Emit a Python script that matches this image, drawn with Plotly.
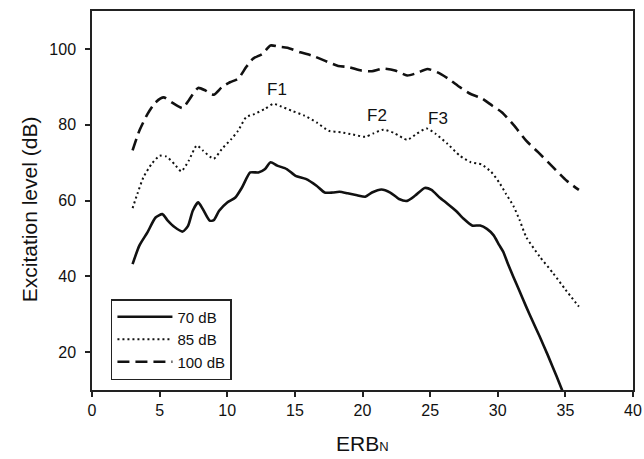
import plotly.graph_objects as go

# ---- data ----
x70 = [3.0, 3.5, 4.1, 4.7, 5.2, 5.6, 6.1, 6.7, 7.1, 7.45, 7.85, 8.2, 8.7, 9.0, 9.4, 10.0,
       10.6, 11.1, 11.7, 12.3, 12.8, 13.2, 13.7, 14.4, 15.05, 15.8, 16.6, 17.2, 17.8, 18.3,
       18.9, 19.6, 20.2, 20.7, 21.4, 22.05, 22.7, 23.3, 23.9, 24.6, 25.1, 25.7, 26.3, 26.9,
       27.5, 28.1, 28.7, 29.2, 29.7, 30.1, 30.4, 30.75, 31.15, 31.6, 32.1, 32.6, 33.1, 33.7,
       34.35, 34.8]
y70 = [43.2, 48.1, 51.6, 55.5, 56.4, 54.7, 53.0, 51.8, 53.3, 57.3, 59.5, 57.7, 54.7, 54.8,
       57.3, 59.5, 60.8, 63.5, 67.4, 67.4, 68.3, 70.1, 69.2, 68.3, 66.5, 65.7, 63.9, 62.1,
       62.1, 62.3, 61.9, 61.4, 61.0, 62.1, 62.9, 62.1, 60.4, 59.9, 61.3, 63.3, 62.8, 60.8,
       59.1, 57.3, 55.1, 53.4, 53.4, 52.5, 50.8, 48.3, 46.5, 43.3, 39.9, 36.2, 32.0, 28.0,
       24.1, 19.2, 13.6, 9.6]

x85 = [3.0, 3.35, 3.8, 4.4, 5.0, 5.5, 6.1, 6.6, 7.15, 7.75, 8.2, 9.0, 9.6, 10.3, 10.8, 11.4,
       12.0, 12.8, 13.4, 14.0, 14.75, 15.7, 16.6, 17.5, 18.4, 19.3, 20.2, 20.8, 21.55, 22.4,
       23.3, 24.0, 24.75, 25.4, 26.3, 27.2, 28.0, 28.8, 29.5, 30.1, 30.6, 31.15, 31.6, 32.1,
       33.1, 34.1, 35.0, 36.0]
y85 = [58.0, 61.7, 66.1, 69.6, 71.8, 71.6, 69.6, 67.7, 70.5, 74.5, 73.2, 71.0, 73.6, 76.2,
       78.4, 82.0, 82.8, 84.2, 85.5, 84.8, 83.7, 82.4, 80.6, 78.4, 78.0, 77.4, 76.8, 77.7,
       78.7, 77.7, 76.0, 77.6, 79.0, 77.6, 74.9, 71.8, 70.1, 69.5, 67.6, 64.8, 61.8, 58.6,
       55.0, 50.4, 45.2, 40.8, 36.5, 32.0]

x100 = [3.0, 3.5, 4.1, 4.7, 5.3, 5.9, 6.7, 7.15, 7.85, 8.4, 9.0, 9.6, 10.2, 10.8, 11.4, 11.9,
        12.6, 13.2, 13.8, 14.45, 15.4, 16.3, 17.2, 18.2, 19.0, 19.9, 20.7, 21.5, 22.4, 23.3,
        24.0, 24.8, 25.55, 26.4, 27.2, 28.0, 28.8, 29.6, 30.3, 31.2, 32.1, 33.0, 34.1, 35.1,
        36.0]
y100 = [73.2, 78.4, 82.8, 85.9, 87.2, 85.9, 84.4, 86.4, 89.7, 89.0, 87.9, 89.9, 91.2, 92.1,
        95.2, 97.4, 98.7, 100.9, 100.6, 100.3, 99.1, 98.2, 96.9, 95.5, 95.2, 94.3, 94.1, 94.8,
        94.3, 93.0, 93.6, 94.7, 93.8, 92.0, 89.9, 88.1, 87.0, 85.0, 83.3, 79.8, 75.8, 72.7,
        68.75, 65.2, 62.8]

series_names = ["70 dB", "85 dB", "100 dB"]
formant_labels = ["F1", "F2", "F3"]
formant_x = [13.7, 21.1, 25.6]
formant_y = [89.4, 82.3, 81.6]

x_ticks = [0, 5, 10, 15, 20, 25, 30, 35, 40]
y_ticks = [20, 40, 60, 80, 100]

FONT = "Liberation Sans, Arial, sans-serif"
INK = "#111111"

fig = go.Figure()
fig.add_trace(go.Scatter(x=x70, y=y70, mode="lines", name=series_names[0],
                         line=dict(color=INK, width=2.6, shape="spline", smoothing=0.6)))
fig.add_trace(go.Scatter(x=x85, y=y85, mode="lines", name=series_names[1],
                         line=dict(color=INK, width=2, dash="2px,3px", shape="spline", smoothing=0.6)))
fig.add_trace(go.Scatter(x=x100, y=y100, mode="lines", name=series_names[2],
                         line=dict(color=INK, width=2.6, dash="12px,6px", shape="spline", smoothing=0.6)))

annotations = []
for t, ax, ay in zip(formant_labels, formant_x, formant_y):
    annotations.append(dict(x=ax, y=ay, xref="x", yref="y", text=t, showarrow=False,
                            font=dict(family=FONT, size=17, color=INK)))
annotations.append(dict(x=-0.1165, y=0.477, xref="paper", yref="paper", textangle=-90,
                        xanchor="center", yanchor="middle",
                        text="Excitation level (dB)", showarrow=False,
                        font=dict(family=FONT, size=21, color=INK)))
annotations.append(dict(x=0.5, y=-0.142, xref="paper", yref="paper",
                        xanchor="center", yanchor="middle",
                        text='ERB<span style="font-size:13px">N</span>', showarrow=False,
                        font=dict(family=FONT, size=21, color=INK)))

axis_common = dict(showline=True, linecolor="#222222", linewidth=1.5, mirror=True,
                   ticks="outside", ticklen=5, tickwidth=1.5, tickcolor="#222222",
                   showgrid=False, zeroline=False, automargin=False,
                   tickfont=dict(family=FONT, size=16, color=INK))

fig.update_layout(
    width=644, height=459,
    margin=dict(l=92, r=11, t=11, b=69),
    paper_bgcolor="white", plot_bgcolor="white",
    font=dict(family=FONT, color=INK),
    xaxis=dict(range=[0, 40], tickvals=x_ticks, **axis_common),
    yaxis=dict(range=[10, 110], tickvals=y_ticks, ticklabelstandoff=6, **axis_common),
    legend=dict(x=0.035, y=0.240, xanchor="left", yanchor="top",
                bgcolor="white", bordercolor="#222222", borderwidth=1.5,
                itemwidth=55, entrywidth=88,
                font=dict(family=FONT, size=15, color=INK), tracegroupgap=0),
    annotations=annotations,
    showlegend=True,
)

fig.write_html("out.html")
